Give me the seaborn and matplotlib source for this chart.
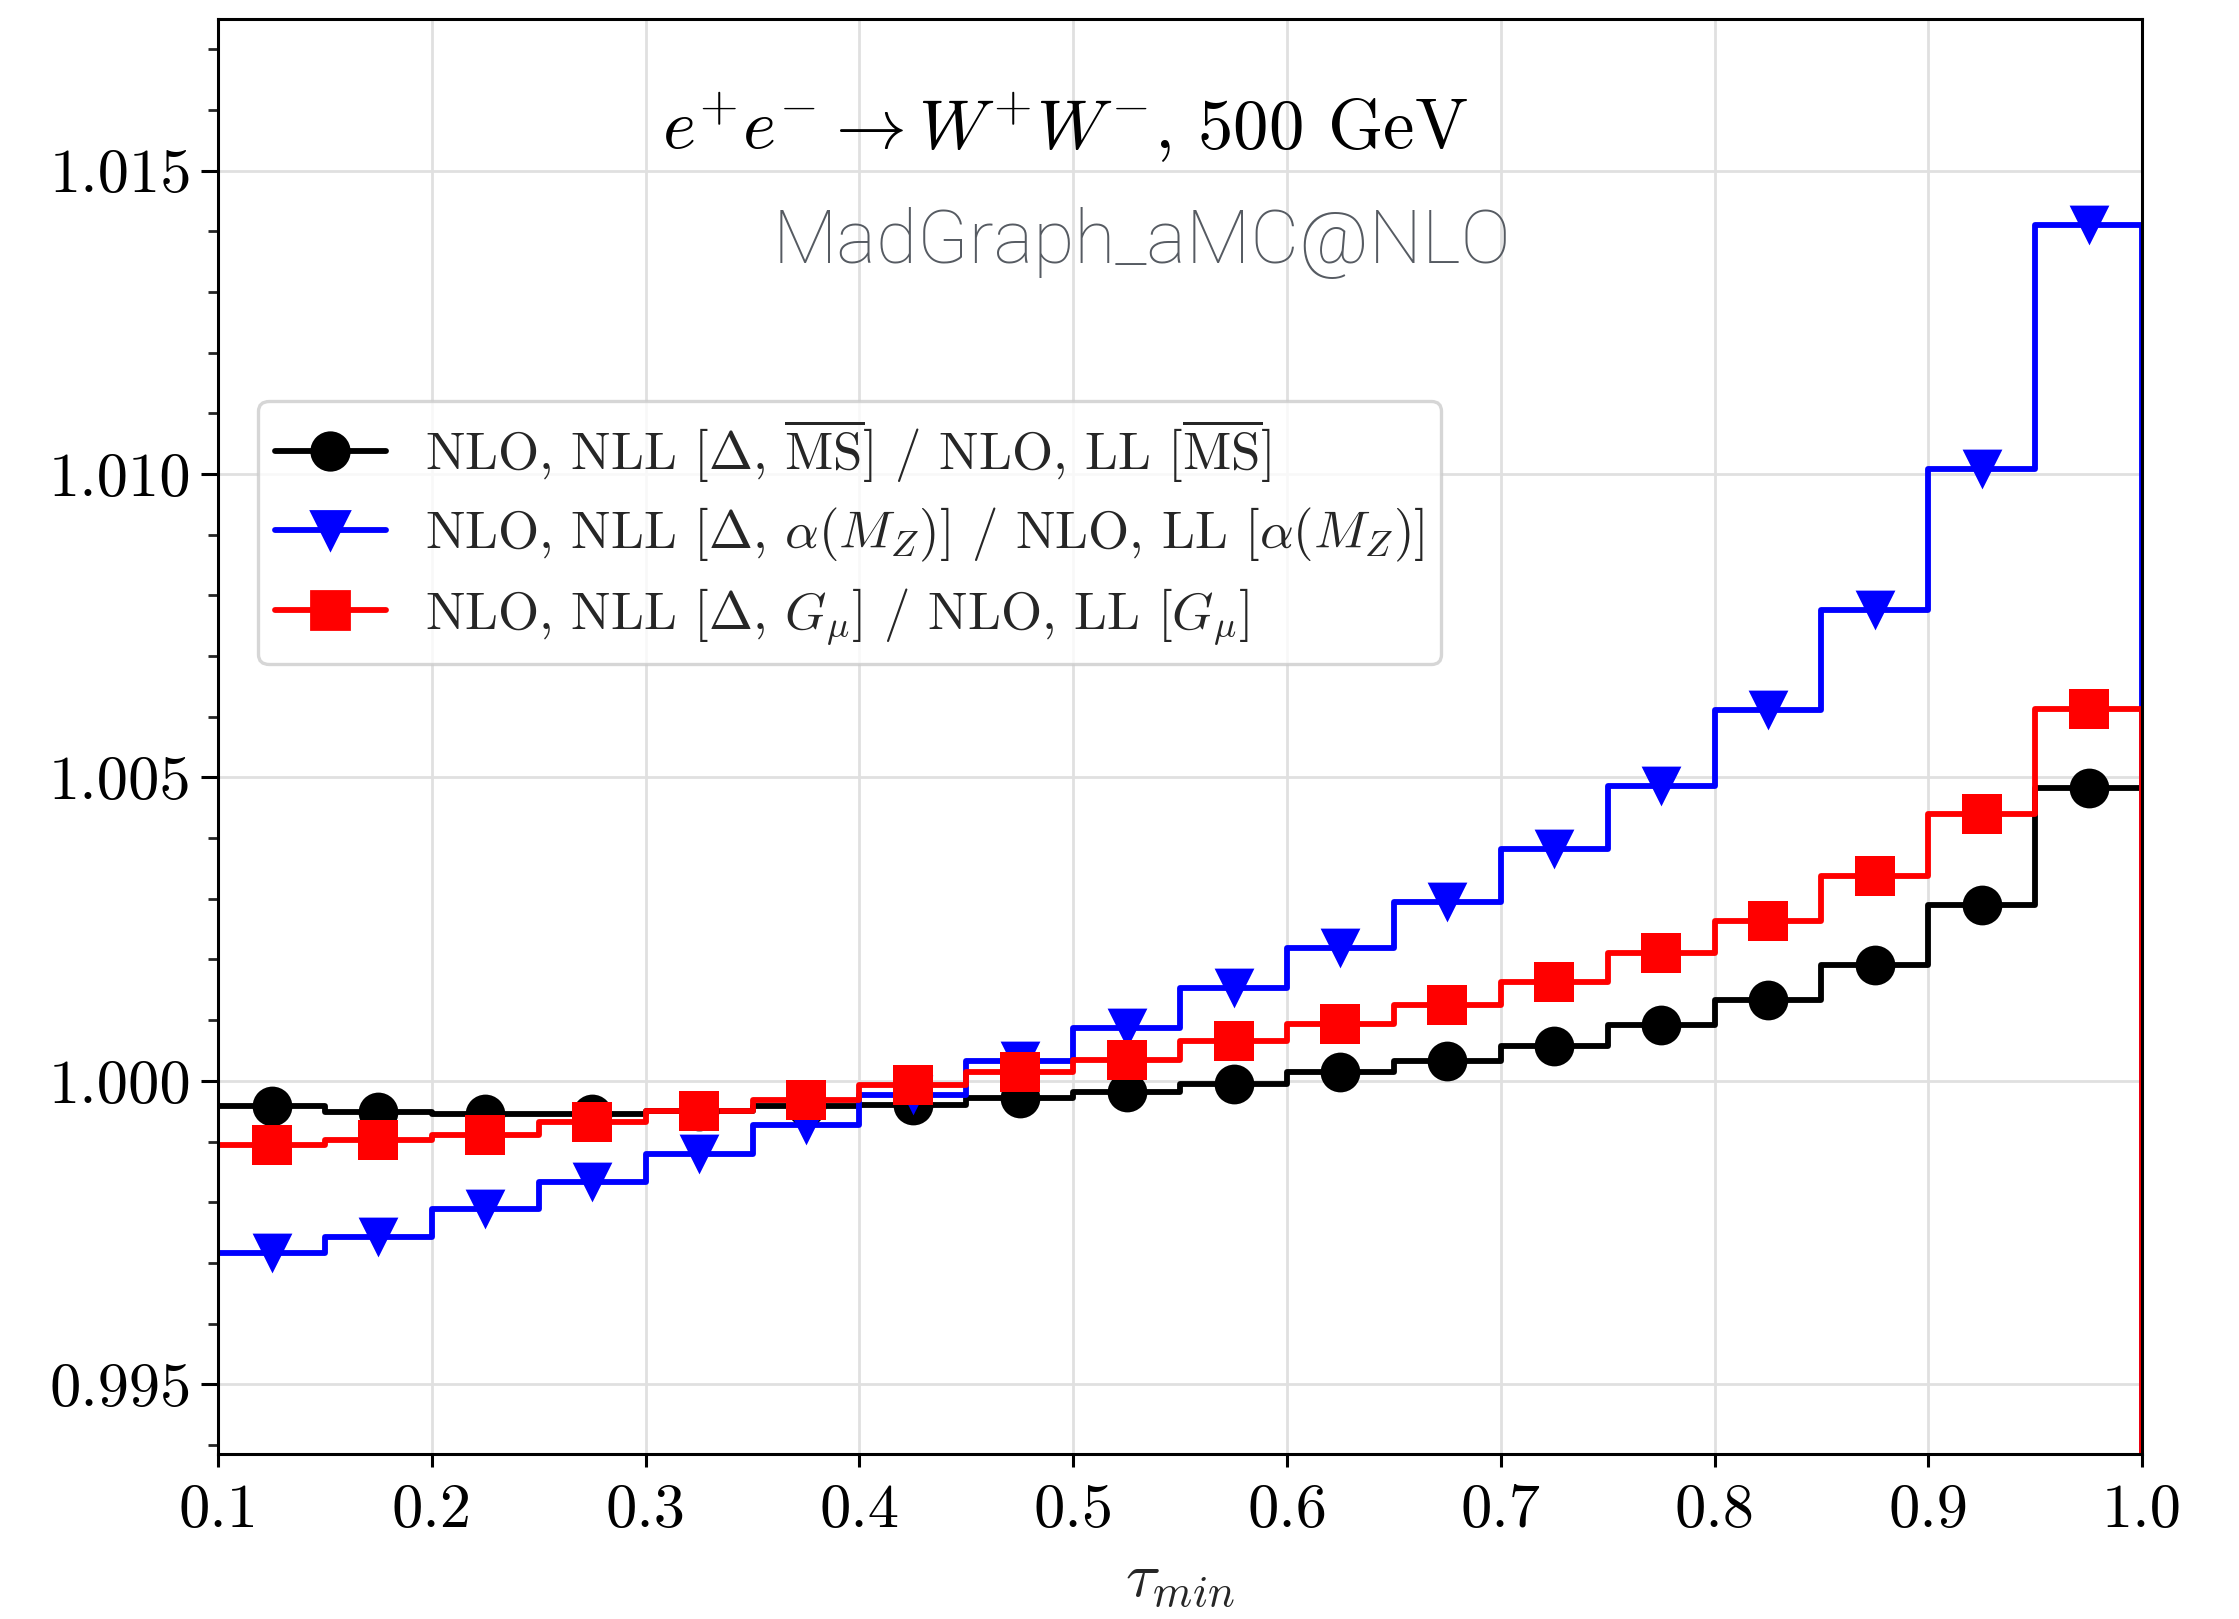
import numpy as np
import pandas as pd
import matplotlib
matplotlib.use("Agg")
import matplotlib.pyplot as plt
import seaborn as sns
from matplotlib.lines import Line2D
from matplotlib.ticker import MultipleLocator, FormatStrFormatter

# ---- data ----
bin_edges = [0.10, 0.15, 0.20, 0.25, 0.30, 0.35, 0.40, 0.45, 0.50, 0.55,
             0.60, 0.65, 0.70, 0.75, 0.80, 0.85, 0.90, 0.95, 1.00]
bin_centers = [0.125, 0.175, 0.225, 0.275, 0.325, 0.375, 0.425, 0.475, 0.525,
               0.575, 0.625, 0.675, 0.725, 0.775, 0.825, 0.875, 0.925, 0.975]

ratio_msbar = [0.99958, 0.99948, 0.99946, 0.99946, 0.99950, 0.99958, 0.99960,
               0.99972, 0.99981, 0.99995, 1.00014, 1.00033, 1.00057, 1.00092,
               1.00134, 1.00191, 1.00290, 1.00483]
ratio_alpha = [0.99717, 0.99743, 0.99788, 0.99833, 0.99880, 0.99927, 0.99976,
               1.00033, 1.00087, 1.00153, 1.00219, 1.00295, 1.00382, 1.00486,
               1.00611, 1.00776, 1.01009, 1.01410]
ratio_gmu = [0.99894, 0.99903, 0.99910, 0.99932, 0.99950, 0.99969, 0.99993,
             1.00014, 1.00035, 1.00066, 1.00094, 1.00125, 1.00163, 1.00210,
             1.00264, 1.00337, 1.00439, 1.00613]

labels = [r"NLO, NLL [$\Delta$, $\overline{\rm MS}$] / NLO, LL [$\overline{\rm MS}$]",
          r"NLO, NLL [$\Delta$, $\alpha(M_Z)$] / NLO, LL [$\alpha(M_Z)$]",
          r"NLO, NLL [$\Delta$, $G_\mu$] / NLO, LL [$G_\mu$]"]
colors = ["black", "blue", "red"]
markers = ["o", "v", "s"]
series = [ratio_msbar, ratio_alpha, ratio_gmu]

title_text = r"$e^{+}e^{-} \rightarrow W^{+}W^{-}$, 500 GeV"
tool_text = "MadGraph_aMC@NLO"

# ---- style ----
sns.set_theme(style="white")
plt.rcParams["font.family"] = ["serif"]
plt.rcParams["font.serif"] = ["cmr10"]
plt.rcParams["mathtext.fontset"] = "cm"
plt.rcParams["axes.formatter.use_mathtext"] = True

fig = plt.figure(figsize=(11.195, 8.095), dpi=200)
ax = fig.add_axes([0.0974, 0.1019, 0.8593, 0.8864])

handles = []
for vals, col, mk, lab in zip(series, colors, markers, labels):
    step_df = pd.DataFrame({"x": bin_edges, "y": list(vals) + [0.0]})
    sns.lineplot(data=step_df, x="x", y="y", drawstyle="steps-post",
                 color=col, lw=2.1, ax=ax, sort=False, estimator=None)
    pt_df = pd.DataFrame({"x": bin_centers, "y": vals})
    sns.scatterplot(data=pt_df, x="x", y="y", marker=mk, color=col,
                    s=205, linewidth=0, ax=ax, zorder=3)
    handles.append(Line2D([], [], color=col, lw=2.1, marker=mk,
                          markersize=13.5, label=lab))

ax.set_xlim(0.1, 1.0)
ax.set_ylim(0.99385, 1.0175)
ax.xaxis.set_major_locator(MultipleLocator(0.1))
ax.xaxis.set_major_formatter(FormatStrFormatter("%.1f"))
ax.yaxis.set_major_locator(MultipleLocator(0.005))
ax.yaxis.set_minor_locator(MultipleLocator(0.001))
ax.yaxis.set_major_formatter(FormatStrFormatter("%.3f"))

ax.grid(True, which="major", color="#e0e0e0", lw=1.0)
ax.set_axisbelow(True)
for sp in ax.spines.values():
    sp.set_color("black")
    sp.set_linewidth(1.1)

ax.tick_params(axis="x", which="major", direction="out", length=4.8,
               width=1.1, labelsize=22.5, colors="black", bottom=True, pad=6)
ax.tick_params(axis="y", which="major", direction="out", length=6,
               width=1.1, labelsize=22.5, colors="black", left=True)
ax.tick_params(axis="y", which="minor", direction="out", length=3.5,
               width=1.0, left=True)

ax.set_xlabel(r"$\tau_{min}$", fontsize=23, labelpad=5)
ax.set_ylabel("")

ax.text(0.44, 0.924, title_text, transform=ax.transAxes, fontsize=25.5,
        ha="center", va="center", color="black")
ax.text(0.48, 0.844, tool_text, transform=ax.transAxes, fontsize=27,
        ha="center", va="center", color="#565b62",
        family=["Roboto", "DejaVu Sans"], fontweight="light")

leg = ax.legend(handles=handles, loc="upper left",
                bbox_to_anchor=(0.0208, 0.734), borderaxespad=0.0,
                fontsize=19, handlelength=2.1, handletextpad=0.75,
                labelspacing=0.41, borderpad=0.32, frameon=True, fancybox=True)
leg.get_frame().set_edgecolor("#cccccc")
leg.get_frame().set_linewidth(1.2)

fig.savefig("out.png", dpi=200)
